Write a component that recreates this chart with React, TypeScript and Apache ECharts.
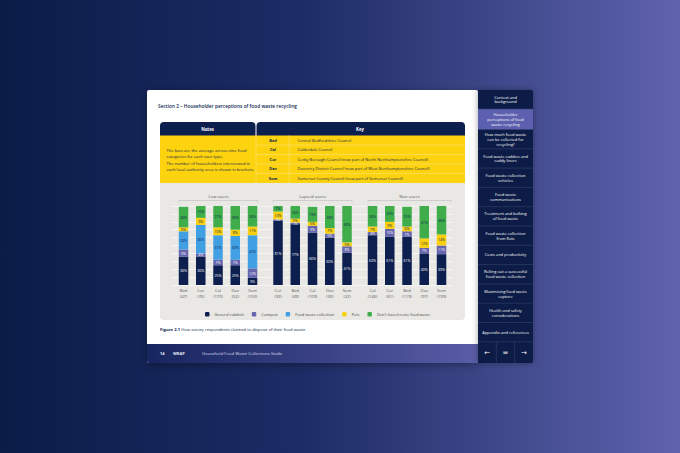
import React, { useEffect, useRef } from "react";
import * as echarts from "echarts";

const seriesNames = ["General rubbish", "Compost", "Food waste collection", "Pets", "Don't have/create food waste"];
const seriesColors = ["#0c1f4f", "#6665ae", "#41a0e3", "#f9d00f", "#3fae4a"];
const labelColors = ["#ffffff", "#ffffff", "#0c1f4f", "#0c1f4f", "#0c1f4f"];

const groupNames = ["Low users", "Lapsed users", "Non users"];
const lowCats = ["Bed\n(47)", "Cor\n(76)", "Cal\n(170)", "Dav\n(52)", "Som\n(150)"];
const lapsedCats = ["Cor\n(33)", "Bed\n(49)", "Cal\n(109)", "Dav\n(30)", "Som\n(22)"];
const nonCats = ["Cal\n(146)", "Cor\n(61)", "Bed\n(119)", "Dav\n(97)", "Som\n(199)"];

const lowGeneral = [36, 36, 25, 25, 9];
const lowCompost = [9, 4, 7, 7, 12];
const lowFood = [23, 36, 31, 30, 42];
const lowPets = [5, 9, 10, 8, 11];
const lowNone = [26, 15, 27, 30, 26];

const lapsedGeneral = [81, 77, 66, 60, 41];
const lapsedCompost = [2, 2, 9, 5, 8];
const lapsedFood = [0, 0, 0, 0, 0];
const lapsedPets = [10, 5, 5, 7, 5];
const lapsedNone = [7, 16, 19, 28, 46];

const nonGeneral = [63, 61, 61, 40, 39];
const nonCompost = [4, 10, 7, 7, 11];
const nonFood = [0, 0, 0, 0, 0];
const nonPets = [7, 9, 6, 12, 14];
const nonNone = [26, 20, 25, 41, 36];

const keyCodes = ["Bed", "Cal", "Cor", "Dav", "Som"];
const keyNames = [
  "Central Bedfordshire Council",
  "Calderdale Council",
  "Corby Borough Council (now part of North Northamptonshire Council)",
  "Daventry District Council (now part of West Northamptonshire Council)",
  "Somerset County Council (now part of Somerset Council)",
];

const sidebarItems = [
  "Context and\nbackground",
  "Householder\nperceptions of food\nwaste recycling",
  "How much food waste\ncan be collected for\nrecycling?",
  "Food waste caddies and\ncaddy liners",
  "Food waste collection\nvehicles",
  "Food waste\ncommunications",
  "Treatment and bulking\nof food waste",
  "Food waste collection\nfrom flats",
  "Costs and productivity",
  "Rolling out a successful\nfood waste collection",
  "Maximising food waste\ncapture",
  "Health and safety\nconsiderations",
  "Appendix and references",
];

const FONT = "'Open Sans', 'Noto Sans', sans-serif";

export default function App() {
  const ref = useRef<HTMLDivElement>(null);
  useEffect(() => {
    if (!ref.current) return;
    const chart = echarts.init(ref.current, null, { renderer: "svg" });

    const cats = [lowCats, lapsedCats, nonCats];
    const groupData = [
      [lowGeneral, lowCompost, lowFood, lowPets, lowNone],
      [lapsedGeneral, lapsedCompost, lapsedFood, lapsedPets, lapsedNone],
      [nonGeneral, nonCompost, nonFood, nonPets, nonNone],
    ];
    const gridLefts = [174.9, 269.4, 363.9];
    const plotTop = 206;
    const plotH = 79;

    const grids: any[] = gridLefts.map((l) => ({ left: l, top: plotTop, width: 86.25, height: plotH }));
    grids.push({ left: 172, top: plotTop, width: 280, height: plotH });

    const xAxes: any[] = cats.map((c, i) => ({
      type: "category",
      gridIndex: i,
      data: c,
      axisLine: { show: false },
      axisTick: { show: false },
      axisLabel: { fontSize: 4.2, color: "#555", lineHeight: 5.6, margin: 3, fontFamily: FONT },
    }));
    xAxes.push({ type: "value", gridIndex: 3, show: false, min: 0, max: 1 });

    const yAxes: any[] = cats.map((_, i) => ({ type: "value", gridIndex: i, min: 0, max: 100, show: false }));
    yAxes.push({
      type: "value",
      gridIndex: 3,
      min: 0,
      max: 100,
      interval: 10,
      axisLabel: { show: false },
      axisLine: { show: false },
      axisTick: { show: false },
      splitLine: { show: true, lineStyle: { color: "#fbfbfb", width: 0.7 } },
    });

    const series: any[] = [];
    groupData.forEach((arrs, g) => {
      arrs.forEach((d, s) => {
        series.push({
          type: "bar",
          name: seriesNames[s],
          stack: "g" + g,
          xAxisIndex: g,
          yAxisIndex: g,
          data: d.map((v) => ({
            value: v,
            label: v < 4 ? { fontSize: 2.6 } : undefined,
          })),
          barWidth: 9.5,
          itemStyle: { color: seriesColors[s] },
          label: {
            show: true,
            position: "inside",
            fontSize: 3.6,
            fontFamily: FONT,
            color: labelColors[s],
            formatter: (p: any) => (p.value ? p.value + "%" : ""),
          },
        });
      });
    });

    const graphics: any[] = [];
    graphics.push({
      type: "rect",
      z: -20,
      shape: { x: 0, y: 0, width: 680, height: 453 },
      style: {
        fill: {
          type: "linear", x: 0, y: 0, x2: 1, y2: 0,
          colorStops: [
            { offset: 0, color: "#0b1c47" },
            { offset: 0.45, color: "#1d2c66" },
            { offset: 1, color: "#5f63ad" },
          ],
        },
      },
    });
    graphics.push({
      type: "rect", z: -19,
      shape: { x: 147, y: 90, width: 331, height: 273, r: 2 },
      style: { fill: "#ffffff", shadowBlur: 8, shadowColor: "rgba(0,0,0,0.35)", shadowOffsetY: 2 },
    });
    graphics.push({
      type: "rect", z: -18,
      shape: { x: 147, y: 344, width: 331, height: 19, r: [0, 0, 0, 2] },
      style: {
        fill: {
          type: "linear", x: 0, y: 0, x2: 1, y2: 0,
          colorStops: [
            { offset: 0, color: "#17255f" },
            { offset: 1, color: "#5a5da7" },
          ],
        },
      },
    });
    graphics.push({ type: "text", z: 5, x: 160, y: 353.5, style: { text: "14", fill: "#e8e8f4", fontSize: 4, fontWeight: "bold", fontFamily: FONT, textVerticalAlign: "middle" } });
    graphics.push({ type: "text", z: 5, x: 173, y: 353.5, style: { text: "WRAP", fill: "#e8e8f4", fontSize: 4, fontWeight: "bold", fontFamily: FONT, textVerticalAlign: "middle" } });
    graphics.push({ type: "text", z: 5, x: 202, y: 353.5, style: { text: "Household Food Waste Collections Guide", fill: "#d8d9ee", fontSize: 4.2, fontFamily: FONT, textVerticalAlign: "middle" } });

    graphics.push({ type: "text", z: 5, x: 158, y: 106, style: { text: "Section 2 \u2013 Householder perceptions of food waste recycling", fill: "#0c1f4f", fontSize: 4.8, fontWeight: 600, fontFamily: FONT, textVerticalAlign: "middle" } });

    graphics.push({ type: "rect", z: -10, shape: { x: 160, y: 122, width: 95.5, height: 14, r: [4, 4, 0, 0] }, style: { fill: "#0c1f4f" } });
    graphics.push({ type: "rect", z: -10, shape: { x: 256.5, y: 122, width: 208.5, height: 14, r: [4, 4, 0, 0] }, style: { fill: "#0c1f4f" } });
    graphics.push({ type: "text", z: 5, x: 207.5, y: 129, style: { text: "Notes", fill: "#ffffff", fontSize: 4.3, fontWeight: "bold", fontFamily: FONT, textAlign: "center", textVerticalAlign: "middle" } });
    graphics.push({ type: "text", z: 5, x: 360, y: 129, style: { text: "Key", fill: "#ffffff", fontSize: 4.3, fontWeight: "bold", fontFamily: FONT, textAlign: "center", textVerticalAlign: "middle" } });
    graphics.push({ type: "rect", z: -10, shape: { x: 160, y: 135.5, width: 305, height: 47.5 }, style: { fill: "#fdd20e" } });
    graphics.push({ type: "line", z: -9, shape: { x1: 256, y1: 135.5, x2: 256, y2: 183 }, style: { stroke: "#fbe27a", lineWidth: 0.6 } });
    graphics.push({ type: "line", z: -9, shape: { x1: 289, y1: 135.5, x2: 289, y2: 183 }, style: { stroke: "#fbe27a", lineWidth: 0.6 } });
    const rowH = 47.5 / 5;
    keyCodes.forEach((c, i) => {
      const y0 = 135.5 + i * rowH;
      if (i > 0) graphics.push({ type: "line", z: -9, shape: { x1: 256, y1: y0, x2: 465, y2: y0 }, style: { stroke: "#fbe27a", lineWidth: 0.6 } });
      graphics.push({ type: "text", z: 5, x: 273, y: y0 + rowH / 2, style: { text: c, fill: "#0c1f4f", fontSize: 4, fontWeight: "bold", fontFamily: FONT, textAlign: "center", textVerticalAlign: "middle" } });
      graphics.push({ type: "text", z: 5, x: 297.5, y: y0 + rowH / 2, style: { text: keyNames[i], fill: "#0c1f4f", fontSize: 4, fontFamily: FONT, textVerticalAlign: "middle" } });
    });
    graphics.push({ type: "text", z: 5, x: 166.5, y: 153.5, style: { text: "The bars are the average across nine food\ncategories for each user type.", fill: "#0c1f4f", fontSize: 4.1, lineHeight: 5.8, fontFamily: FONT, textVerticalAlign: "middle" } });
    graphics.push({ type: "text", z: 5, x: 166.5, y: 166.7, style: { text: "The number of householders interviewed in\neach local authority area is shown in brackets.", fill: "#0c1f4f", fontSize: 4.1, lineHeight: 5.8, fontFamily: FONT, textVerticalAlign: "middle" } });

    graphics.push({ type: "rect", z: -10, shape: { x: 160, y: 183, width: 305, height: 137, r: [0, 0, 4, 4] }, style: { fill: "#e9e8e5" } });

    const brackets = [[179, 258], [273, 352], [368, 451]];
    brackets.forEach((b, i) => {
      graphics.push({ type: "polyline", z: 5, shape: { points: [[b[0], 202.5], [b[0], 200.5], [b[1], 200.5], [b[1], 202.5]] }, style: { stroke: "#b5b5b5", lineWidth: 0.5, fill: null } });
      graphics.push({ type: "text", z: 5, x: (b[0] + b[1]) / 2, y: 195.5, style: { text: groupNames[i], fill: "#555", fontSize: 4.3, fontFamily: FONT, textAlign: "center", textVerticalAlign: "middle" } });
    });

    graphics.push({
      type: "text", z: 5, x: 160, y: 329,
      style: {
        text: "{b|Figure 2.1} How survey respondents claimed to dispose of their food waste",
        rich: { b: { fontWeight: "bold", fontSize: 4.2, fill: "#0c1f4f", fontFamily: FONT } },
        fill: "#0c1f4f", fontSize: 4.2, fontFamily: FONT, textVerticalAlign: "middle",
      },
    });

    graphics.push({ type: "rect", z: -8, shape: { x: 478, y: 90, width: 55, height: 273, r: [0, 2, 2, 0] }, style: { fill: "#0e1a46", shadowBlur: 6, shadowColor: "rgba(0,0,0,0.35)" } });
    const bounds = [90, 109, 129.5, 148.8, 168.1, 187.4, 206.7, 226, 245.3, 264.6, 283.9, 303.2, 322.5, 341.8];
    sidebarItems.forEach((t, i) => {
      const y0 = bounds[i], y1 = bounds[i + 1];
      if (i === 1) graphics.push({ type: "rect", z: -7, shape: { x: 478, y: y0, width: 55, height: y1 - y0 }, style: { fill: "#5c60ae" } });
      if (i > 0) graphics.push({ type: "line", z: -6, shape: { x1: 478, y1: y0, x2: 533, y2: y0 }, style: { stroke: "#34416f", lineWidth: 0.6 } });
      graphics.push({ type: "text", z: 5, x: 505.5, y: (y0 + y1) / 2, style: { text: t, fill: "#ffffff", fontSize: 4, lineHeight: 4.9, fontFamily: FONT, textAlign: "center", textVerticalAlign: "middle" } });
    });
    graphics.push({ type: "line", z: -6, shape: { x1: 478, y1: 341.8, x2: 533, y2: 341.8 }, style: { stroke: "#34416f", lineWidth: 0.6 } });
    graphics.push({ type: "line", z: -6, shape: { x1: 496.3, y1: 341.8, x2: 496.3, y2: 363 }, style: { stroke: "#34416f", lineWidth: 0.6 } });
    graphics.push({ type: "line", z: -6, shape: { x1: 514.7, y1: 341.8, x2: 514.7, y2: 363 }, style: { stroke: "#34416f", lineWidth: 0.6 } });
    ["\u2190", "=", "\u2192"].forEach((a, i) => {
      graphics.push({ type: "text", z: 5, x: 487.2 + i * 18.35, y: 352.5, style: { text: a, fill: "#ffffff", fontSize: 7, fontFamily: "DejaVu Sans", textAlign: "center", textVerticalAlign: "middle" } });
    });

    chart.setOption({
      animation: false,
      graphic: { elements: graphics },
      grid: grids,
      xAxis: xAxes,
      yAxis: yAxes,
      legend: {
        data: seriesNames,
        left: 200,
        top: 307,
        itemWidth: 4.5,
        itemHeight: 4.5,
        itemGap: 8,
        icon: "roundRect",
        textStyle: { fontSize: 3.9, color: "#444", fontFamily: FONT },
        selectedMode: false,
      },
      series,
    });
    return () => chart.dispose();
  }, []);
  return <div ref={ref} style={{ position: "absolute", left: 0, top: 0, width: 680, height: 453 }} />;
}
